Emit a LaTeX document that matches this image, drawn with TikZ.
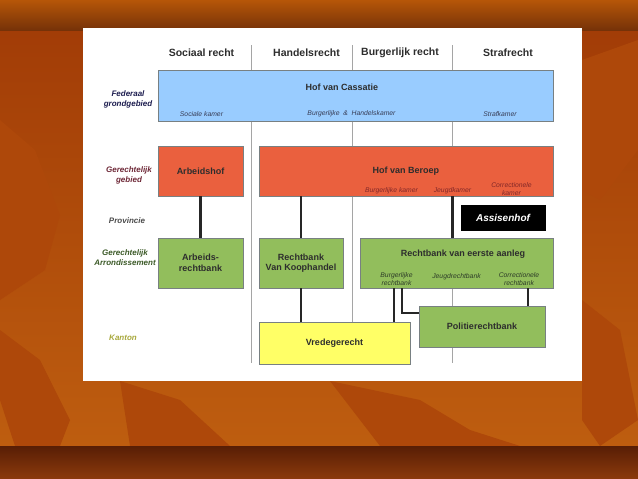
\documentclass[tikz,border=0pt]{standalone}
\usepackage{fontspec}
\setmainfont{Liberation Sans}
\usetikzlibrary{calc}
\definecolor{bgorange}{RGB}{192,96,16}
\definecolor{bgdeep}{RGB}{160,58,6}
\definecolor{bgleaf}{RGB}{174,72,10}
\definecolor{bandtop}{RGB}{182,86,8}
\definecolor{bandlow}{RGB}{118,50,8}
\definecolor{footdark}{RGB}{88,30,5}
\definecolor{footlow}{RGB}{140,58,12}
\definecolor{cassblue}{RGB}{153,204,255}
\definecolor{beroepred}{RGB}{234,96,62}
\definecolor{rbgreen}{RGB}{146,190,92}
\definecolor{vredeyellow}{RGB}{255,255,102}
\definecolor{boxedge}{RGB}{120,128,130}
\definecolor{divgrey}{RGB}{165,165,165}
\definecolor{headgrey}{RGB}{45,45,45}
\definecolor{subblue}{RGB}{55,60,85}
\definecolor{subred}{RGB}{130,40,40}
\definecolor{subgreen}{RGB}{45,60,40}
\definecolor{lvlnavy}{RGB}{30,30,80}
\definecolor{lvlmaroon}{RGB}{110,40,55}
\definecolor{lvlgreen}{RGB}{60,90,40}
\definecolor{lvlolive}{RGB}{168,168,60}
\newcommand\headfont{\fontsize{10.5}{12}\selectfont\bfseries}
\newcommand\titlefont{\fontsize{9}{10.5}\selectfont\bfseries}
\newcommand\subfont{\fontsize{6.8}{8}\selectfont\itshape}
\newcommand\levelfont{\fontsize{8}{10}\selectfont\bfseries\itshape}

\begin{document}
\begin{tikzpicture}[x=1pt,y=-1pt,
    court/.style={draw=boxedge,line width=0.7pt,inner sep=1pt,align=center,font=\titlefont,text=headgrey},
    sub/.style={inner sep=0pt,align=center,font=\subfont},
    level/.style={inner sep=0pt,align=center,font=\levelfont},
    head/.style={inner sep=0pt,font=\headfont,text=headgrey},
    link/.style={line width=2.2pt,black!85,dash pattern=on 1.3pt off 0.7pt},
    divider/.style={divgrey,line width=0.8pt}]
    % Background with leaves
    \shade[top color=bgdeep,bottom color=bgorange] (0,0) rectangle (638,479);
    \fill[bgleaf] (0,120) -- (35,150) -- (60,215) -- (45,270) -- (0,300) -- cycle;
    \fill[bgleaf] (0,330) -- (40,360) -- (70,420) -- (60,446) -- (15,446) -- (0,400) -- cycle;
    \fill[bgleaf] (120,381) -- (180,400) -- (230,446) -- (130,446) -- cycle;
    \fill[bgleaf] (330,381) -- (420,400) -- (470,430) -- (520,446) -- (380,446) -- cycle;
    \fill[bgleaf] (582,60) -- (638,40) -- (638,150) -- (600,200) -- (582,190) -- cycle;
    \fill[bgleaf] (582,300) -- (620,330) -- (638,420) -- (600,446) -- (582,420) -- cycle;
    \shade[top color=bandtop,bottom color=bandlow] (0,0) rectangle (638,30);
    \shade[top color=footdark,bottom color=footlow] (0,446) rectangle (638,479);
    \fill[white] (83,28) rectangle (582,381);

    % Column dividers and headers
    \foreach \x in {251,352,452}{
      \draw[divider] (\x,45) -- (\x,363);
    }
    \foreach \x/\lab in {201.5/Sociaal recht, 306.5/Handelsrecht, 400/Burgerlijk recht, 508/Strafrecht}{
      \node[head] at (\x,53) {\lab};
    }

    % Levels
    \node[level,text=lvlnavy] (federaal) at (128,99) {Federaal\\grondgebied};
    \node[level,text=lvlmaroon] (gebied) at (129,175) {Gerechtelijk\\gebied};
    \node[level,text=headgrey!85] (provincie) at (127,221) {Provincie};
    \node[level,text=lvlgreen] (arrond) at (125,258) {Gerechtelijk\\Arrondissement};
    \node[level,text=lvlolive] (kanton) at (123,338) {Kanton};

    % Hof van Cassatie
    \node[court,fill=cassblue,minimum width=395pt,minimum height=51pt] (cass) at (355.5,95.5) {};
    \node[inner sep=0pt,font=\titlefont,text=headgrey] (casstitle) at (342,87) {Hof van Cassatie};
    \node[sub,text=subblue] (sockam) at (201.5,114) {Sociale kamer};
    \node[sub,text=subblue] (burghk) at (351.5,114) {Burgerlijke \ \& \ Handelskamer};
    \node[sub,text=subblue] (strafk) at (500,114) {Strafkamer};

    % Hoven
    \node[court,fill=beroepred,minimum width=85pt,minimum height=50pt] (arbhof) at (200.5,171) {Arbeidshof};
    \node[court,fill=beroepred,minimum width=294pt,minimum height=50pt] (beroep) at (406,171) {Hof van Beroep};
    \node[sub,text=subred] (bkamer) at (391.5,190.5) {Burgerlijke kamer};
    \node[sub,text=subred] (jkamer) at (452.5,190.5) {Jeugdkamer};
    \node[sub,text=subred] (ckamer) at (511.5,189) {Correctionele\\kamer};
    \node[court,draw=black,fill=black,text=white,font=\fontsize{10}{12}\selectfont\bfseries\itshape,
      minimum width=84pt,minimum height=25pt] (assisen) at (503,217.5) {Assisenhof};

    % Rechtbanken
    \node[court,fill=rbgreen,minimum width=85pt,minimum height=50pt] (arbrb) at (200.5,263) {Arbeids-\\rechtbank};
    \node[court,fill=rbgreen,minimum width=84pt,minimum height=50pt] (koop) at (301,263) {Rechtbank\\Van Koophandel};
    \node[court,fill=rbgreen,minimum width=193pt,minimum height=50pt] (eerste) at (456.5,263) {};
    \node[inner sep=0pt,font=\titlefont,text=headgrey] (eerstetitle) at (463,254.5) {Rechtbank van eerste aanleg};
    \node[sub,text=subgreen] (burgrb) at (396.5,279) {Burgerlijke\\rechtbank};
    \node[sub,text=subgreen] (jeugdrb) at (456.5,277) {Jeugdrechtbank};
    \node[sub,text=subgreen] (corrrb) at (519,279) {Correctionele\\rechtbank};

    % Kanton
    \node[court,fill=vredeyellow,minimum width=151pt,minimum height=42pt] (vrede) at (334.5,343) {Vredegerecht};
    \node[court,fill=rbgreen,minimum width=126pt,minimum height=41pt] (politie) at (482,326.5) {Politierechtbank};

    % Links
    \draw[link] (arbhof) -- (arbrb);
    \draw[link] (beroep.south -| koop) -- (koop.north);
    \draw[link] (beroep.south -| jkamer) -- (eerste.north -| jkamer);
    \draw[link] (koop.south) -- (koop.south |- vrede.north);
    \draw[link] ($(eerste.south -| burgrb)+(-2.5,0)$) -- ($(vrede.north -| burgrb)+(-2.5,0)$);
    \draw[link] ($(eerste.south -| burgrb)+(5.5,0)$) |- ($(politie.west)+(0,-13.5)$);
    \draw[link] ($(eerste.south -| politie)+(46,0)$) -- ($(politie.north)+(46,0)$);
\end{tikzpicture}
\end{document}
